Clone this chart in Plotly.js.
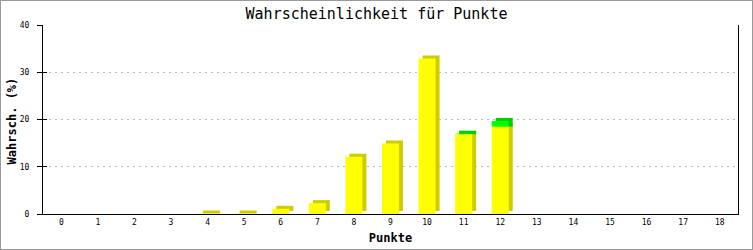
<!DOCTYPE html>
<html><head><meta charset="utf-8">
<script src="https://cdn.plot.ly/plotly-3.0.1.min.js"></script>
<style>
html,body{margin:0;padding:0;background:#fff}
#wrap{position:relative;width:753px;height:250px}
#chart{width:753px;height:250px}
#frame{position:absolute;left:0;top:0;width:753px;height:250px;box-sizing:border-box;border:1px solid #999;pointer-events:none}
</style>
</head><body>
<div id="wrap"><div id="chart"></div><div id="frame"></div></div>
<script>
const categories = ['0','1','2','3','4','5','6','7','8','9','10','11','12','13','14','15','16','17','18'];
const yellowValues = [0,0,0,0,0.1,0.1,1.1,2.3,12.1,14.9,32.9,16.9,18.5,0,0,0,0,0,0];
const greenValues  = [0,0,0,0,0,0,0,0,0,0,0,0.1,1.2,0,0,0,0,0,0];
const yTicks = [0,10,20,30,40];

const W = 753, H = 250, M = {l:43, r:15, t:25, b:36};
const plotW = W - M.l - M.r, plotH = H - M.t - M.b;
const yMax = 40;
const barW = 17 / (plotW / categories.length);
const dx = 4 / (plotW / categories.length);
const dy = 3 / (plotH / yMax);

const yellowShadowBase = yellowValues.map(v => Math.min(v, dy));
const yellowShadowY = yellowValues.map((v,i) => v > 0 ? v + dy - yellowShadowBase[i] : null);
const greenShadowY = greenValues.map(g => g > 0 ? g + dy : null);
const greenShadowBase = yellowValues.slice();
const yellowFront = yellowValues.map(v => v > 0 ? v : null);
const greenFront = greenValues.map(g => g > 0 ? g : null);

const common = {type:'bar', x:categories, width:barW, hoverinfo:'skip'};
const traces = [
  Object.assign({}, common, {y:yellowShadowY, base:yellowShadowBase, offset:-barW/2+dx, marker:{color:'#cccc00'}, yaxis:'y'}),
  Object.assign({}, common, {y:greenShadowY, base:greenShadowBase, offset:-barW/2+dx, marker:{color:'#00cc00'}, yaxis:'y2'}),
  Object.assign({}, common, {y:yellowFront, base:0, offset:-barW/2, marker:{color:'#ffff00'}, yaxis:'y2'}),
  Object.assign({}, common, {y:greenFront, base:yellowValues, offset:-barW/2, marker:{color:'#00ff00'}, yaxis:'y2'})
];

const mono = 'DejaVu Sans Mono, monospace';
const layout = {
  width:W, height:H, margin:M,
  paper_bgcolor:'#fff', plot_bgcolor:'#fff',
  barmode:'overlay', showlegend:false,
  title:{text:'Wahrscheinlichkeit für Punkte', font:{family:mono, size:15, color:'#000'},
         x:0.5, xref:'container', xanchor:'center', y:1-14/H, yref:'container', yanchor:'middle'},
  xaxis:{type:'category', range:[-0.5,18.5], showline:true, linecolor:'#000', linewidth:1,
         ticks:'', showgrid:false, zeroline:false, tickfont:{family:mono, size:8, color:'#000'},
         title:{text:'Punkte', font:{family:mono, size:12, weight:'bold', color:'#000'}, standoff:8}},
  yaxis:{range:[0,yMax], tickvals:yTicks, ticktext:yTicks.map(String), showline:true, mirror:true, linecolor:'#000', linewidth:1,
         ticks:'outside', ticklen:5, tickcolor:'#000', ticklabelstandoff:6,
         showgrid:true, gridcolor:'#bbbbbb', griddash:'2px,4px', gridwidth:1, zeroline:false,
         tickfont:{family:mono, size:8, color:'#000'}},
  yaxis2:{overlaying:'y', range:[0,yMax], tickvals:yTicks, ticks:'inside', ticklen:4, tickcolor:'#000',
          showticklabels:false, showgrid:false, zeroline:false, showline:false},
  annotations:[{text:'Wahrsch. (%)', textangle:-90, xref:'paper', yref:'paper',
                x:(12 - M.l)/plotW, y:0.49, xanchor:'center', yanchor:'middle', showarrow:false,
                font:{family:mono, size:12, weight:'bold', color:'#000'}}]
};
Plotly.newPlot('chart', traces, layout, {staticPlot:true});
</script>
</body></html>
